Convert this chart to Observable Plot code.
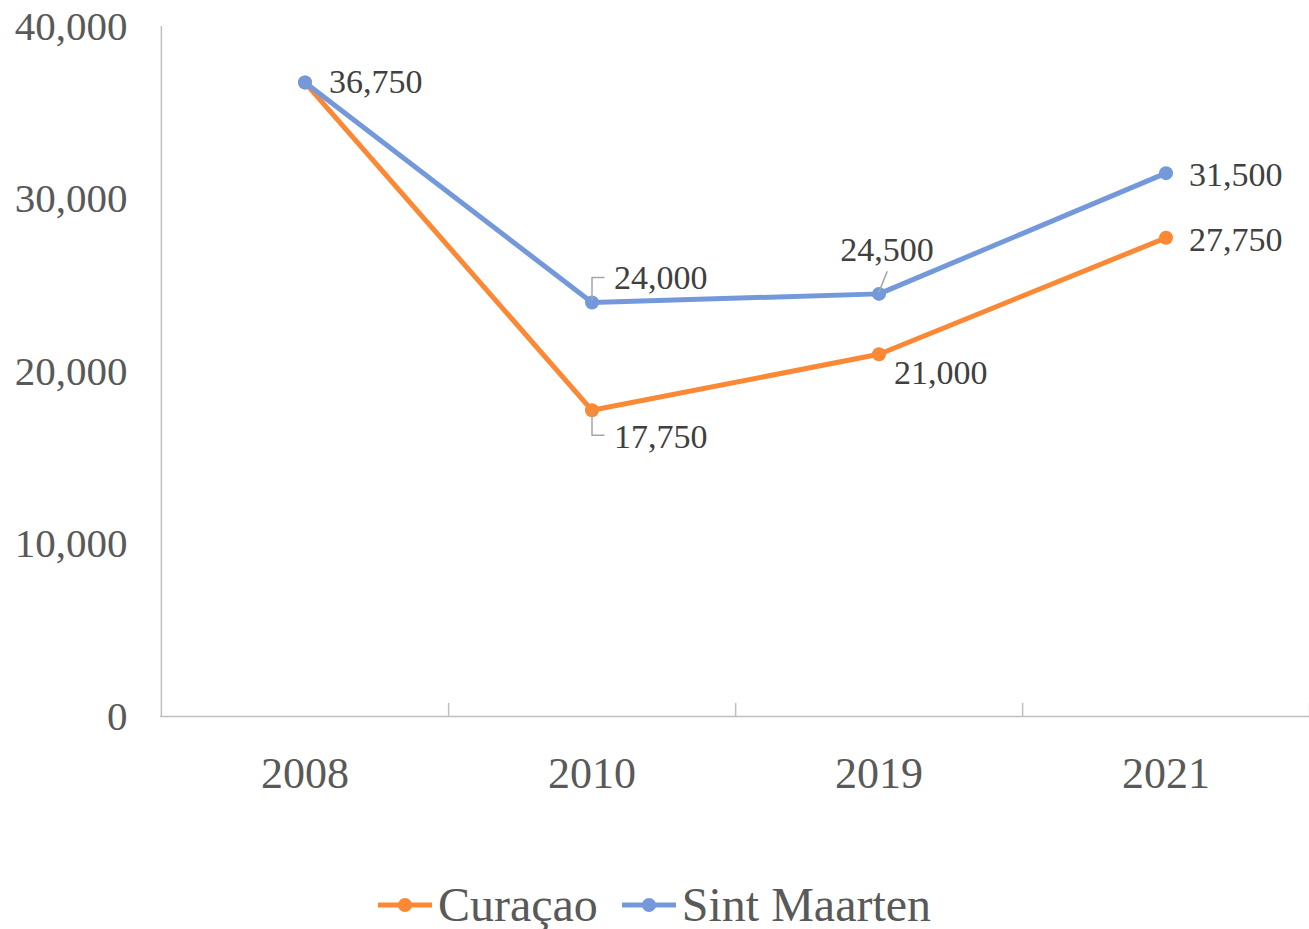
<!DOCTYPE html>
<html>
<head>
<meta charset="utf-8">
<script src="https://cdn.jsdelivr.net/npm/d3@7"></script>
<script src="https://cdn.jsdelivr.net/npm/@observablehq/plot@0.6"></script>
<style>
  html, body { margin: 0; padding: 0; background: #ffffff; }
  body { width: 1309px; height: 929px; overflow: hidden; font-family: "Liberation Serif", serif; }
  #legend { display: flex; justify-content: center; align-items: center; height: 49px; font-size: 48px; color: #595959; }
  #legend .item { display: flex; align-items: center; margin: 0 12px; }
  #legend svg { margin-right: 6px; }
</style>
</head>
<body>
<div id="chart"></div>
<div id="legend"></div>
<script>
// ---- data ----
const years = ["2008", "2010", "2019", "2021"];
const seriesNames = ["Curaçao", "Sint Maarten"];
const curacao = [36750, 17750, 21000, 27750];
const sintMaarten = [36750, 24000, 24500, 31500];
const yTicks = [0, 10000, 20000, 30000, 40000];
const seriesColors = ["#FA8835", "#7399DA"];

const data = [];
years.forEach((y, i) => data.push({series: seriesNames[0], year: y, value: curacao[i]}));
years.forEach((y, i) => data.push({series: seriesNames[1], year: y, value: sintMaarten[i]}));

const fmt = d3.format(",");
const W = 1309, H = 880;
const mL = 160, mR = 0, mT = 26, mB = 164;
const half = (W - mL - mR) / years.length / 2;

const pick = (s, y) => data.filter(d => d.series === s && d.year === y);
const labelColor = "#404040";
const label = (s, y, o) => Plot.text(pick(s, y), {
  x: "year", y: "value", text: d => fmt(d.value),
  fill: labelColor, fontSize: 34, ...o
});
const leaderShape = pts => ({
  draw(ctx) {
    ctx.moveTo(pts[0][0], pts[0][1]);
    for (let k = 1; k < pts.length; k++) ctx.lineTo(pts[k][0], pts[k][1]);
  }
});
const leader = (s, y, pts) => Plot.vector(pick(s, y), {
  x: "year", y: "value", length: 1, anchor: "start",
  shape: leaderShape(pts), stroke: "#A6A6A6", strokeWidth: 1.5
});

const chart = Plot.plot({
  width: W, height: H,
  marginLeft: mL, marginRight: mR, marginTop: mT, marginBottom: mB,
  style: {fontFamily: "Liberation Serif, serif", background: "#ffffff"},
  x: {type: "band", domain: years, padding: 0, label: null},
  y: {domain: [0, 40000], label: null},
  color: {domain: seriesNames, range: seriesColors},
  marks: [
    Plot.ruleY([0], {stroke: "#BFBFBF", strokeWidth: 1.5}),
    Plot.ruleX([years[0]], {dx: -half, stroke: "#BFBFBF", strokeWidth: 1.5}),
    Plot.ruleX(years, {dx: half, y1: 0, y2: 760, stroke: "#BFBFBF", strokeWidth: 1.5}),
    Plot.axisY(yTicks, {tickSize: 0, tickPadding: 33, fontSize: 41, color: "#595959", tickFormat: fmt}),
    Plot.axisX({tickSize: 0, tickPadding: 40, fontSize: 44, color: "#595959"}),
    Plot.line(data, {x: "year", y: "value", stroke: "series", z: "series", strokeWidth: 5}),
    Plot.dot(data, {x: "year", y: "value", fill: "series", r: 7}),
    leader("Sint Maarten", "2010", [[0, -3], [0, -25], [12, -25]]),
    leader("Curaçao", "2010", [[0, 3], [0, 25], [12, 25]]),
    leader("Sint Maarten", "2019", [[0, -2], [8, -22]]),
    label("Sint Maarten", "2008", {textAnchor: "start", dx: 24, dy: 0}),
    label("Sint Maarten", "2010", {textAnchor: "start", dx: 22, dy: -24}),
    label("Curaçao", "2010", {textAnchor: "start", dx: 22, dy: 27}),
    label("Sint Maarten", "2019", {textAnchor: "middle", dx: 8, dy: -44}),
    label("Curaçao", "2019", {textAnchor: "start", dx: 15, dy: 19}),
    label("Sint Maarten", "2021", {textAnchor: "start", dx: 23, dy: 2}),
    label("Curaçao", "2021", {textAnchor: "start", dx: 23, dy: 2})
  ]
});
document.getElementById("chart").appendChild(chart);

// legend
const legend = document.getElementById("legend");
seriesNames.forEach((name, i) => {
  const item = document.createElement("div");
  item.className = "item";
  item.innerHTML = `<svg width="54" height="20"><line x1="0" x2="54" y1="10" y2="10" stroke="${seriesColors[i]}" stroke-width="5"/><circle cx="27" cy="10" r="7" fill="${seriesColors[i]}"/></svg><span>${name}</span>`;
  legend.appendChild(item);
});
</script>
</body>
</html>
